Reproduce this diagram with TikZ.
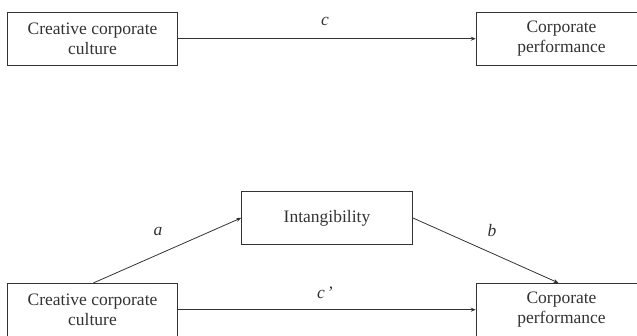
\documentclass[tikz,border=0pt]{standalone}
\usepackage{fontspec}
\setmainfont{Liberation Serif}
\usetikzlibrary{arrows.meta}
\definecolor{ink}{HTML}{333333}
\tikzset{
  box/.style={draw=ink, line width=0.9pt, minimum width=170.6pt, minimum height=52.7pt,
    inner sep=0pt, align=center, text=ink, font=\fontsize{17.5}{20}\selectfont},
  conn/.style={draw=ink, line width=0.8pt, -{Stealth[length=5pt,width=4pt]}},
  lbl/.style={text=ink, font=\fontsize{17.5}{20}\selectfont\itshape, inner sep=0pt}
}
\begin{document}
\begin{tikzpicture}[x=1pt,y=-1pt]
\useasboundingbox (0,0) rectangle (637,335);
\begin{scope}
\clip (0,0) rectangle (637,335);
\node[box] (l1) at (92.5,38.7) {Creative corporate\\culture};
\node[box] (r1) at (561.5,38.7) {Corporate\\performance};
\node[box] (m) at (327,217.9) {Intangibility};
\node[box] (l2) at (92.5,309.7) {Creative corporate\\culture};
\node[box] (r2) at (561.5,309.7) {Corporate\\performance};
\draw[conn] (l1) -- (r1);
\draw[conn] (l2) -- (r2);
\draw[conn] ([xshift=1pt]l2.north) -- (m.west);
\draw[conn] (m.east) -- ([xshift=-3pt]r2.north);
\node[lbl] (lc) at (325,21) {c};
\node[lbl] (lcp) at (325,293) {c\kern2pt'};
\node[lbl] (la) at (158,231) {a};
\node[lbl] (lb) at (492,231) {b};
\end{scope}
\end{tikzpicture}
\end{document}
